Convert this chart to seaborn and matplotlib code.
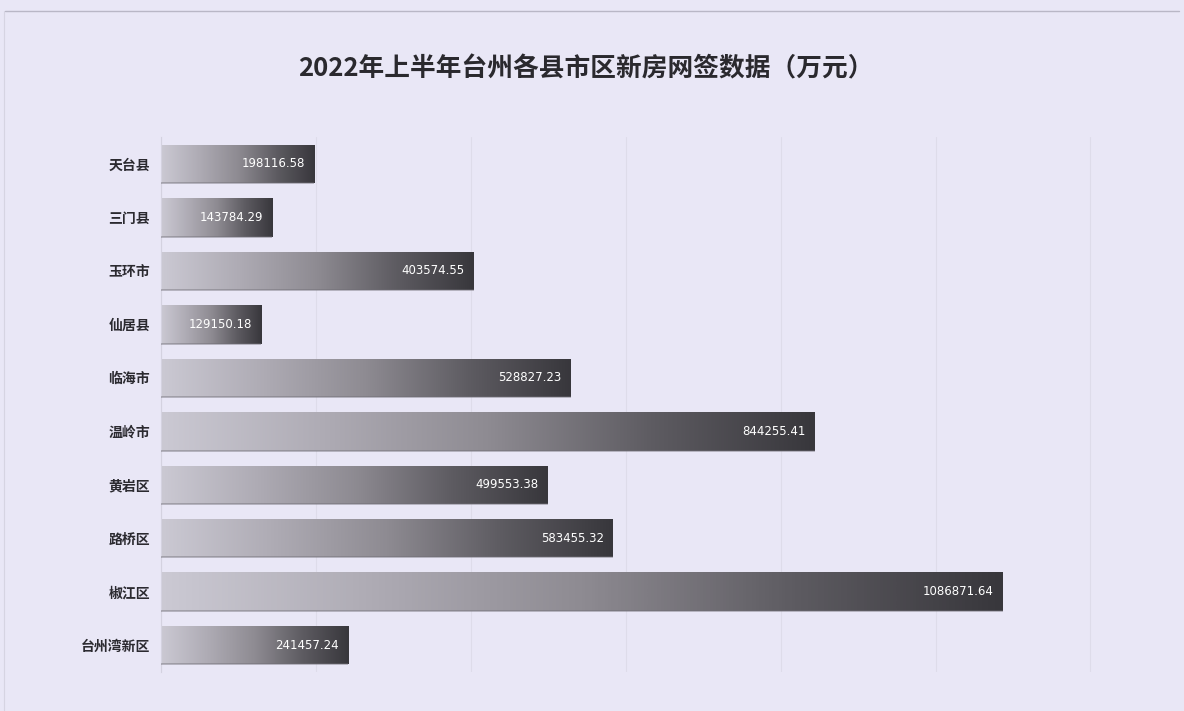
import numpy as np
import pandas as pd
import matplotlib
matplotlib.use("Agg")
import matplotlib.pyplot as plt
from matplotlib.colors import LinearSegmentedColormap
from matplotlib.lines import Line2D
import seaborn as sns

districts = ["天台县", "三门县", "玉环市", "仙居县", "临海市",
             "温岭市", "黄岩区", "路桥区", "椒江区", "台州湾新区"]
amounts = [198116.58, 143784.29, 403574.55, 129150.18, 528827.23,
           844255.41, 499553.38, 583455.32, 1086871.64, 241457.24]
title = "2022年上半年台州各县市区新房网签数据（万元）"

df = pd.DataFrame({"district": districts, "amount": amounts})

sns.set_theme(style="white")
plt.rcParams["font.family"] = ["Noto Sans CJK SC", "DejaVu Sans"]

bg = "#e9e7f6"
fig = plt.figure(figsize=(11.84, 7.11), dpi=100, facecolor=bg)
ax = fig.add_axes([0.136, 0.055, 0.855, 0.752], facecolor=bg)

sns.barplot(data=df, x="amount", y="district", orient="h", ax=ax,
            width=0.72, color="#888888", saturation=1)

xmax = 1307000
ax.set_xlim(0, xmax)
ylim = ax.get_ylim()

# grey gradient inside every bar, light on the left and dark at the tip
cmap = LinearSegmentedColormap.from_list(
    "bar_grad", ["#cbc9d3", "#aeabb4", "#8e8b92", "#5e5c62", "#38373c"],
)
grad = np.linspace(0, 1, 256).reshape(1, -1)
for patch in ax.patches:
    x0, y0 = patch.get_x(), patch.get_y()
    w, h = patch.get_width(), patch.get_height()
    im = ax.imshow(grad, cmap=cmap, aspect="auto",
                   extent=[x0, x0 + w, y0 + h, y0], zorder=2,
                   interpolation="bicubic")
    im.set_clip_path(patch)
    patch.set_facecolor("none")
    patch.set_edgecolor("none")
    # thin shadow along the bottom edge
    ax.plot([x0, x0 + w], [y0 + h, y0 + h], color="#6e6c74", lw=1.2,
            alpha=0.5, zorder=3, solid_capstyle="butt")

ax.set_xlim(0, xmax)
ax.set_ylim(ylim)

for i, v in enumerate(amounts):
    ax.text(v - 12000, i, f"{v:.2f}", ha="right", va="center",
            color="white", fontsize=8.5, family="DejaVu Sans", zorder=4)

ax.set_xticks(np.arange(0, xmax + 1, 200000))
ax.grid(axis="x", color="#dedcea", lw=0.8)
ax.set_axisbelow(True)
ax.tick_params(axis="x", length=0, labelbottom=False)
ax.tick_params(axis="y", length=0, pad=8)
for lab in ax.get_yticklabels():
    lab.set_fontsize(10)
    lab.set_fontweight("bold")
    lab.set_color("#2b2a30")
ax.set_xlabel("")
ax.set_ylabel("")
for side in ["top", "right", "bottom"]:
    ax.spines[side].set_visible(False)
ax.spines["left"].set_color("#d4d2e0")
ax.spines["left"].set_linewidth(0.8)

fig.text(0.495, 0.903, title, ha="center", va="center", fontsize=18.5,
         fontweight="bold", color="#2a292e")

# outer frame line across the top
fig.add_artist(Line2D([0.004, 0.996], [0.985, 0.985], color="#b9b7c6", lw=1.0))
fig.add_artist(Line2D([0.003, 0.003], [0.0, 0.985], color="#d6d4e2", lw=0.8))

fig.savefig("out.png", dpi=100, facecolor=bg)
